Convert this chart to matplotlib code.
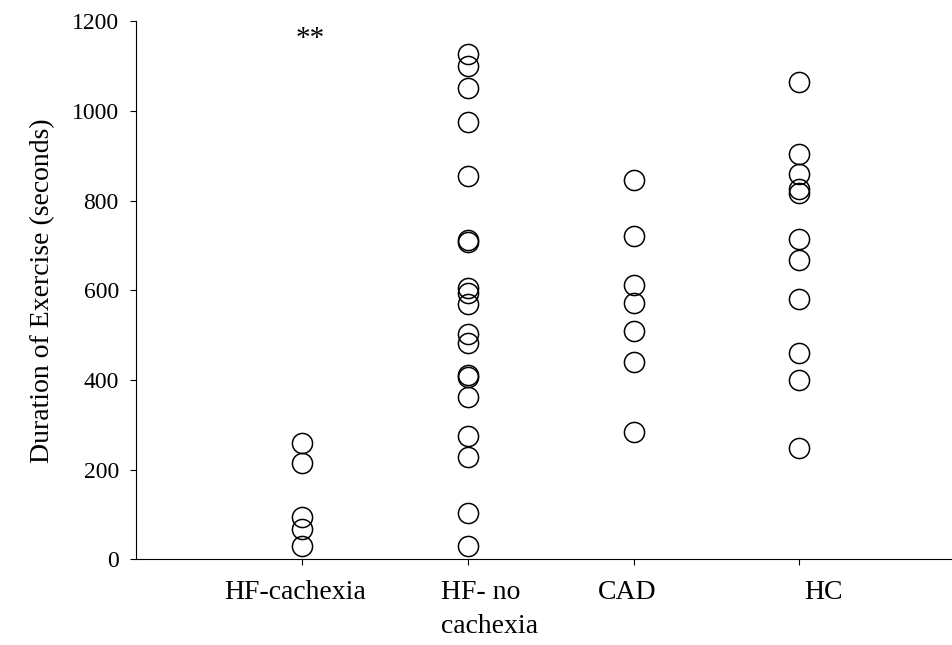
import matplotlib.pyplot as plt
import matplotlib.transforms as mtransforms

# Exercise duration per group (seconds)
groups = ['HF-cachexia', 'HF- no\ncachexia', 'CAD', 'HC']
hf_cachexia = [259, 215, 94, 68, 29]
hf_no_cachexia = [1128, 1100, 1052, 975, 855, 712, 707, 604, 593, 569,
                  503, 483, 412, 407, 362, 274, 227, 102, 30]
cad = [845, 720, 611, 572, 508, 441, 284]
hc = [1065, 905, 860, 825, 818, 715, 668, 581, 459, 399, 247]
yticks = [0, 200, 400, 600, 800, 1000, 1200]

plt.rcParams['font.family'] = ['Liberation Serif', 'DejaVu Serif']

fig = plt.figure(figsize=(9.52, 6.45), dpi=100)
ax = fig.add_axes([0.143, 0.133, 0.857, 0.834])

for i, values in enumerate([hf_cachexia, hf_no_cachexia, cad, hc], start=1):
    ax.plot([i] * len(values), values, linestyle='none', marker='o',
            markersize=14.5, markerfacecolor='none', markeredgecolor='black',
            markeredgewidth=1.1)

# significance mark above the cachexia group
ax.text(1.05, 1160, '**', ha='center', va='center', fontsize=21)

ax.set_xlim(0, 4.92)
ax.set_ylim(0, 1200)
ax.set_yticks(yticks)
ax.set_xticks([1, 2, 3, 4])
ax.set_xticklabels(groups, fontsize=20, linespacing=1.45)
ax.tick_params(axis='y', labelsize=17, length=4.5, width=0.8, pad=8)
ax.tick_params(axis='x', length=4, width=0.8, pad=11)
for spine in ['top', 'right']:
    ax.spines[spine].set_visible(False)
for spine in ['left', 'bottom']:
    ax.spines[spine].set_linewidth(0.8)

# shift the category labels sideways a little
offsets = [-7, 22, -6, 24]
for lab, dx in zip(ax.get_xticklabels(), offsets):
    lab.set_transform(lab.get_transform() +
                      mtransforms.ScaledTranslation(dx / 100, 0, fig.dpi_scale_trans))
ax.get_xticklabels()[1].set_multialignment('left')

ax.set_ylabel('Duration of Exercise (seconds)', fontsize=20, labelpad=12)

fig.savefig('out.png', dpi=100)
